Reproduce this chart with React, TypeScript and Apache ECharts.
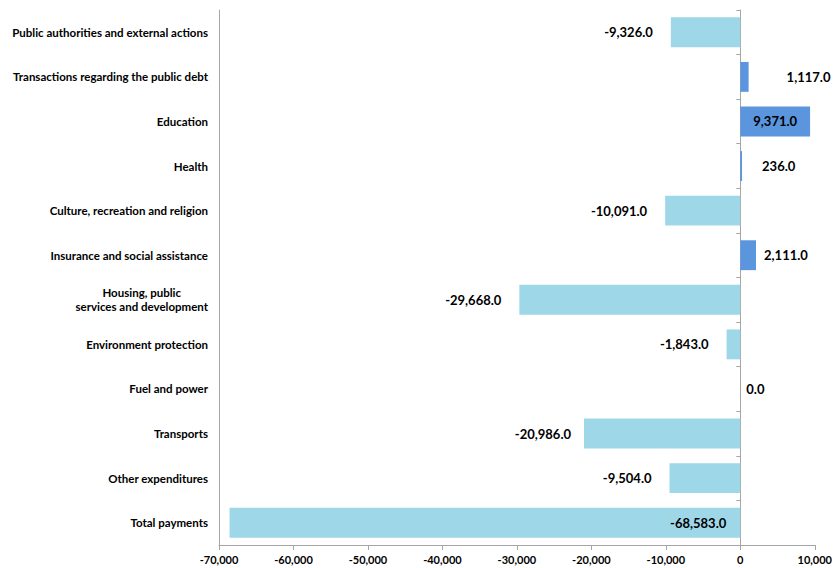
import React, { useEffect, useRef } from "react";
import * as echarts from "echarts";

const categories = [
  "Public authorities and external actions",
  "Transactions regarding the public debt",
  "Education",
  "Health",
  "Culture, recreation and religion",
  "Insurance and social assistance",
  "Housing, public\nservices and development",
  "Environment protection",
  "Fuel and power",
  "Transports",
  "Other expenditures",
  "Total payments",
];

const values = [-9326, 1117, 9371, 236, -10091, 2111, -29668, -1843, 0, -20986, -9504, -68583];

const labelPlacement = [
  ["left", 18],
  ["right", 38],
  ["inside", 0],
  ["right", 20],
  ["left", 18],
  ["right", 8],
  ["left", 18],
  ["left", 18],
  ["right", 6],
  ["left", 13],
  ["left", 18],
  ["insideRight", 14],
];

const NEG = "#9dd7e8";
const POS = "#5b95de";
const AXIS = "#a6a6a6";
const FONT = "Lato, 'Open Sans', sans-serif";

const fmt = (v: number) =>
  v.toLocaleString("en-US", { minimumFractionDigits: 1, maximumFractionDigits: 1 });

export default function App() {
  const ref = useRef<HTMLDivElement>(null);
  useEffect(() => {
    if (!ref.current) return;
    const chart = echarts.init(ref.current, null, { renderer: "svg" });
    chart.setOption({
      animation: false,
      grid: { left: 219, right: 17, top: 10, bottom: 23, containLabel: false },
      xAxis: {
        type: "value",
        min: -70000,
        max: 10000,
        interval: 10000,
        axisLine: { show: true, lineStyle: { color: AXIS, width: 1 } },
        axisTick: { show: true, length: 5, lineStyle: { color: AXIS } },
        splitLine: { show: false },
        axisLabel: {
          color: "#000",
          fontFamily: FONT,
          fontWeight: "bold",
          fontSize: 11,
          margin: 9,
          formatter: (v: number) => v.toLocaleString("en-US"),
        },
      },
      yAxis: [
        {
          type: "category",
          data: categories,
          inverse: true,
          position: "left",
          axisLine: { show: true, onZero: false, lineStyle: { color: AXIS } },
          axisTick: { show: false },
          axisLabel: {
            margin: 11,
            color: "#000",
            fontFamily: FONT,
            fontWeight: "bold",
            fontSize: 11.5,
            lineHeight: 14,
            formatter: (v: string) =>
              v.includes("\n")
                ? v.split("\n").map((s) => `{c|${s}}`).join("\n")
                : v,
            rich: {
              c: {
                align: "center",
                color: "#000",
                fontFamily: FONT,
                fontWeight: "bold",
                fontSize: 11.5,
                lineHeight: 14,
              },
            },
          },
        },
        {
          type: "category",
          data: categories,
          inverse: true,
          position: "left",
          axisLine: { show: true, onZero: true, lineStyle: { color: AXIS } },
          axisTick: { show: true, length: 4, lineStyle: { color: AXIS } },
          axisLabel: { show: false },
        },
      ],
      series: [
        {
          type: "bar",
          yAxisIndex: 0,
          barCategoryGap: "33%",
          data: values.map((v, i) => ({
            value: v,
            itemStyle: { color: v >= 0 ? POS : NEG },
            label: {
              show: true,
              position: labelPlacement[i][0],
              distance: labelPlacement[i][1],
            },
          })),
          label: {
            show: true,
            color: "#000",
            fontFamily: FONT,
            fontWeight: "bold",
            fontSize: 13,
            formatter: (p: any) => fmt(p.value),
          },
        },
      ],
    });
    return () => chart.dispose();
  }, []);
  return <div ref={ref} style={{ width: 835, height: 568, position: "absolute", left: 0, top: 0 }} />;
}
